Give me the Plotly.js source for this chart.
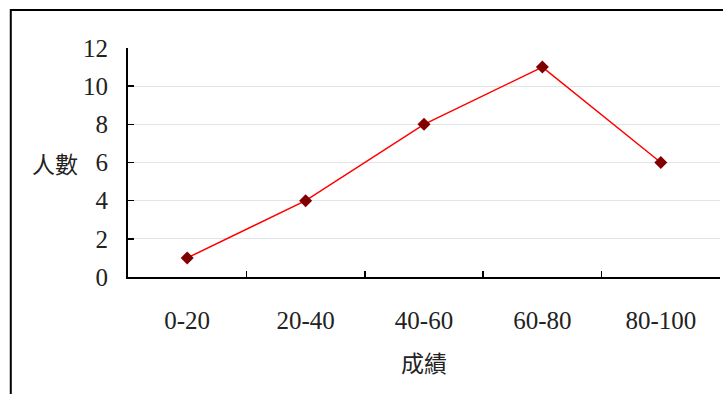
<!DOCTYPE html>
<html>
<head>
<meta charset="utf-8">
<script src="https://cdn.plot.ly/plotly-3.0.1.min.js"></script>
<style>
html,body{margin:0;padding:0;background:#fff;}
#chart{width:723px;height:394px;}
</style>
</head>
<body>
<div id="chart"></div>
<script>
const categories = ["0-20", "20-40", "40-60", "60-80", "80-100"];
const counts = [1, 4, 8, 11, 6];
const xTitle = "成績";
const yTitle = "人數";

const numFont = "Liberation Serif";
const cjkFont = "Noto Sans CJK TC";

const trace = {
  x: categories,
  y: counts,
  type: "scatter",
  mode: "lines+markers",
  line: {color: "#ff0000", width: 1.5},
  marker: {symbol: "diamond", size: 10, color: "#800000"},
  cliponaxis: false,
  showlegend: false
};

const layout = {
  width: 723,
  height: 394,
  margin: {l: 128, r: 3, t: 48, b: 117},
  paper_bgcolor: "#ffffff",
  plot_bgcolor: "#ffffff",
  font: {family: numFont, size: 23, color: "#222"},
  xaxis: {
    type: "category",
    range: [-0.5, 4.5],
    showline: true,
    linecolor: "#000",
    linewidth: 2,
    ticks: "inside",
    tickson: "boundaries",
    ticklen: 6,
    tickwidth: 1.5,
    tickcolor: "#000",
    showgrid: false,
    zeroline: false,
    ticklabelstandoff: 20,
    tickfont: {family: numFont, size: 25, color: "#222"}
  },
  yaxis: {
    range: [0, 12],
    dtick: 2,
    showline: true,
    linecolor: "#000",
    linewidth: 2,
    ticks: "inside",
    ticklen: 6,
    tickwidth: 1.5,
    tickcolor: "#000",
    showgrid: true,
    gridcolor: "#e4e4e4",
    gridwidth: 1,
    zeroline: false,
    ticklabelstandoff: 13,
    tickfont: {family: numFont, size: 25, color: "#222"}
  },
  annotations: [
    {text: yTitle, xref: "paper", yref: "paper", x: -0.123, y: 0.5, xanchor: "center", yanchor: "middle",
     showarrow: false, font: {family: cjkFont, size: 23, color: "#222"}},
    {text: xTitle, xref: "paper", yref: "paper", x: 0.5, y: -0.37, xanchor: "center", yanchor: "middle",
     showarrow: false, font: {family: cjkFont, size: 23, color: "#222"}}
  ],
  shapes: [
    {type: "rect", xref: "paper", yref: "paper", x0: -0.198, x1: 1.5, y0: -1, y1: 1.166,
     line: {color: "#000", width: 2}, layer: "above"}
  ]
};

Plotly.newPlot("chart", [trace], layout, {displayModeBar: false, staticPlot: true});
</script>
</body>
</html>
